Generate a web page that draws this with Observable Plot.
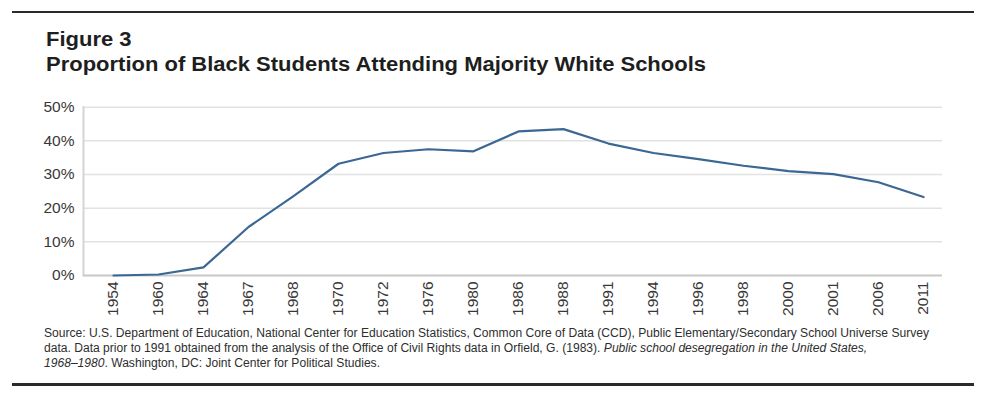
<!DOCTYPE html>
<html>
<head>
<meta charset="utf-8">
<script src="https://cdn.jsdelivr.net/npm/d3@7"></script>
<script src="https://cdn.jsdelivr.net/npm/@observablehq/plot@0.6"></script>
<style>
  html, body { margin: 0; padding: 0; background: #fff; }
  body { width: 1000px; height: 397px; position: relative; overflow: hidden; font-family: "Liberation Sans", Arial, sans-serif; }
  .rule { position: absolute; left: 12px; width: 962px; background: #2a2a2a; }
  .t { position: absolute; white-space: nowrap; transform-origin: 0 0; }
  .title { font-weight: bold; font-size: 20px; line-height: 20px; color: #1e1e1e; left: 46px; }
  .cap { font-size: 12.5px; line-height: 12.5px; color: #2e2e2e; left: 44px; }
  #chart { position: absolute; left: 0; top: 90px; }
  #chart svg text { font-family: "Liberation Sans", Arial, sans-serif !important; fill: #383838; }
</style>
</head>
<body>
<div class="rule" style="top:10.5px;height:2.5px"></div>
<div class="t title" id="t1" style="top:28.8px">Figure 3</div>
<div class="t title" id="t2" style="top:53.8px">Proportion of Black Students Attending Majority White Schools</div>
<div id="chart"></div>
<div class="t cap" id="c1" style="top:327.2px">Source: U.S. Department of Education, National Center for Education Statistics, Common Core of Data (CCD), Public Elementary/Secondary School Universe Survey</div>
<div class="t cap" id="c2" style="top:342.2px">data. Data prior to 1991 obtained from the analysis of the Office of Civil Rights data in Orfield, G. (1983). <i>Public school desegregation in the United States,</i></div>
<div class="t cap" id="c3" style="top:357.2px"><i>1968–1980</i>. Washington, DC: Joint Center for Political Studies.</div>
<div class="rule" style="top:382.5px;height:3px"></div>
<script>
const years = ["1954","1960","1964","1967","1968","1970","1972","1976","1980","1986","1988","1991","1994","1996","1998","2000","2001","2006","2011"];
const shares = [0, 0.3, 2.4, 14.4, 23.6, 33.2, 36.4, 37.5, 36.9, 42.8, 43.5, 39.2, 36.4, 34.6, 32.6, 31.0, 30.1, 27.7, 23.3];
const yTicks = [0, 10, 20, 30, 40, 50];
const gridTicks = [10, 20, 30, 40, 50];

const data = years.map((year, i) => ({year, share: shares[i]}));

const chart = Plot.plot({
  width: 1000,
  height: 230,
  marginTop: 16.7,
  marginBottom: 45,
  marginLeft: 83,
  marginRight: 58,
  style: {fontFamily: '"Liberation Sans", Arial, sans-serif', fontSize: "15.5px", color: "#383838", background: "transparent"},
  x: {type: "point", domain: years, range: [107.3, 928], padding: 0, label: null},
  y: {domain: [0, 50], label: null},
  marks: [
    Plot.gridY(gridTicks, {stroke: "#e2e2e2", strokeOpacity: 1, strokeWidth: 1.5}),
    Plot.frame({anchor: "left", stroke: "#d4d4d4", strokeWidth: 2}),
    Plot.ruleY([0], {stroke: "#c8c8c8", strokeWidth: 2}),
    Plot.axisY(yTicks, {tickSize: 0, tickPadding: 9, tickFormat: d => d + "%", fontSize: 15.5, label: null}),
    Plot.axisX({tickRotate: -90, tickSize: 0, tickPadding: 6, fontSize: 15.5, label: null}),
    Plot.line(data, {x: "year", y: "share", stroke: "#3b6794", strokeWidth: 2.2})
  ]
});
document.getElementById("chart").appendChild(chart);

function scaleTo(ids, refId, target) {
  const ref = document.getElementById(refId);
  const w = ref.getBoundingClientRect().width;
  const s = target / w;
  ids.forEach(id => { document.getElementById(id).style.transform = `scaleX(${s})`; });
}
scaleTo(["t1", "t2"], "t2", 660);
scaleTo(["c1", "c2", "c3"], "c1", 885);
</script>
</body>
</html>
